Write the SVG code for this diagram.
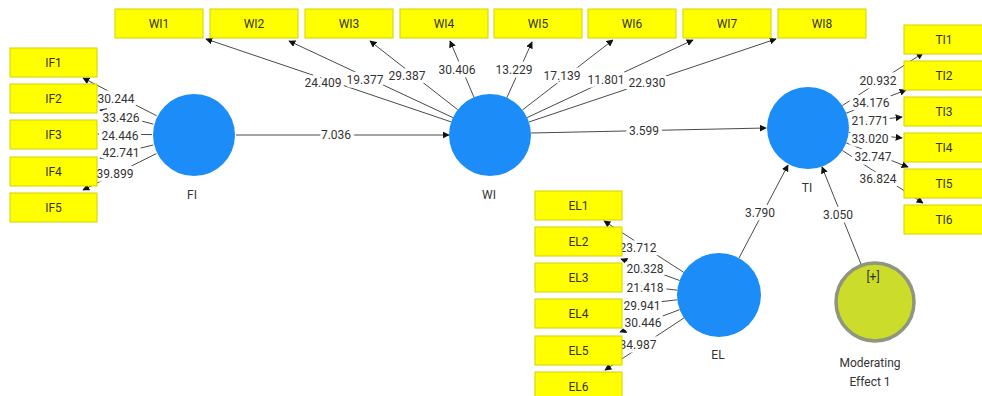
<svg xmlns="http://www.w3.org/2000/svg" width="982" height="396" viewBox="0 0 982 396">
  <defs>
    <marker id="arrow" viewBox="0 0 10 10" refX="9" refY="5" markerWidth="7" markerHeight="7" markerUnits="userSpaceOnUse" orient="auto">
      <path d="M0,0 L10,5 L0,10 z" fill="#111"/>
    </marker>
    <style>
      .ind rect { fill: #ffff00; stroke: #d2d200; stroke-width: 1; }
      .ind text, .lbl { font-family: Roboto, "Noto Sans", "Liberation Sans", sans-serif; font-size: 12px; fill: #333; }
      .ind text { text-anchor: middle; dominant-baseline: central; }
      .lv circle { fill: #1c8cf8; }
      .lv text { font-family: Roboto, "Noto Sans", "Liberation Sans", sans-serif; font-size: 12px; fill: #333; text-anchor: middle; }
      .mod circle { fill: #cbdc2a; stroke: #8e9680; stroke-width: 3.5; }
      #connectors line { stroke: #4a4a4a; stroke-width: 1; marker-end: url(#arrow); }
      .lbl { text-anchor: middle; dominant-baseline: central; paint-order: stroke; stroke: #fff; stroke-width: 7px; stroke-linejoin: round; }
    </style>
  </defs>
  <rect width="982" height="396" fill="#fff"/>

  <!-- connectors: structural paths and outer loadings -->
  <g id="connectors">
    <!-- structural paths -->
    <line x1="236" y1="135" x2="449" y2="135"/>
    <line x1="531" y1="133" x2="766" y2="128"/>
    <line x1="739" y1="258" x2="788" y2="165"/>
    <line x1="861" y1="264" x2="822" y2="167"/>
    <!-- FI loadings -->
    <line x1="156.7" y1="115.8" x2="83" y2="78"/>
    <line x1="153.4" y1="124.2" x2="100" y2="110"/>
    <line x1="152" y1="134.6" x2="98" y2="134"/>
    <line x1="153.2" y1="145" x2="100" y2="158"/>
    <line x1="156.4" y1="153.6" x2="83" y2="190"/>
    <!-- WI loadings -->
    <line x1="451.2" y1="121.9" x2="206" y2="39"/>
    <line x1="452.9" y1="117.6" x2="289" y2="41"/>
    <line x1="457.7" y1="109.7" x2="370" y2="41"/>
    <line x1="474" y1="97.3" x2="450" y2="41"/>
    <line x1="506.9" y1="97.6" x2="532" y2="42"/>
    <line x1="522.4" y1="110" x2="613" y2="40"/>
    <line x1="527.1" y1="117.6" x2="693" y2="40"/>
    <line x1="528.9" y1="122" x2="776" y2="39"/>
    <!-- TI loadings -->
    <line x1="842.3" y1="105.6" x2="923" y2="53"/>
    <line x1="846.2" y1="113.2" x2="906" y2="90"/>
    <line x1="848.7" y1="123.2" x2="902" y2="117"/>
    <line x1="848.8" y1="132.3" x2="902" y2="138"/>
    <line x1="846.2" y1="142.9" x2="908" y2="167"/>
    <line x1="842.3" y1="150.4" x2="923" y2="203"/>
    <!-- EL loadings -->
    <line x1="683.7" y1="272.3" x2="604" y2="221"/>
    <line x1="679.6" y1="280.5" x2="621" y2="259"/>
    <line x1="677.3" y1="290.2" x2="624" y2="284"/>
    <line x1="677.3" y1="299.8" x2="624" y2="306"/>
    <line x1="679.6" y1="309.7" x2="620" y2="332"/>
    <line x1="683.9" y1="318" x2="605" y2="370"/>
  </g>

  <!-- coefficient labels (drawn under the boxes) -->
  <g id="labels">
    <text class="lbl" x="336" y="135">7.036</text>
    <text class="lbl" x="644" y="131">3.599</text>
    <text class="lbl" x="760" y="213">3.790</text>
    <text class="lbl" x="838" y="215">3.050</text>

    <text class="lbl" x="116" y="99">30.244</text>
    <text class="lbl" x="121" y="118">33.426</text>
    <text class="lbl" x="120" y="136">24.446</text>
    <text class="lbl" x="121" y="153">42.741</text>
    <text class="lbl" x="115" y="174">39.899</text>

    <text class="lbl" x="323" y="83">24.409</text>
    <text class="lbl" x="365" y="80">19.377</text>
    <text class="lbl" x="407" y="76">29.387</text>
    <text class="lbl" x="457" y="70">30.406</text>
    <text class="lbl" x="514" y="70">13.229</text>
    <text class="lbl" x="562" y="76">17.139</text>
    <text class="lbl" x="606" y="80">11.801</text>
    <text class="lbl" x="647" y="83">22.930</text>

    <text class="lbl" x="878" y="81">20.932</text>
    <text class="lbl" x="871" y="103">34.176</text>
    <text class="lbl" x="870" y="121">21.771</text>
    <text class="lbl" x="870" y="139">33.020</text>
    <text class="lbl" x="873" y="157">32.747</text>
    <text class="lbl" x="878" y="179">36.824</text>

    <text class="lbl" x="638" y="248">23.712</text>
    <text class="lbl" x="645" y="269">20.328</text>
    <text class="lbl" x="645" y="288">21.418</text>
    <text class="lbl" x="642" y="306">29.941</text>
    <text class="lbl" x="643" y="323">30.446</text>
    <text class="lbl" x="638" y="345">34.987</text>
  </g>

  <!-- indicator boxes -->
  <g id="IF1" class="ind"><rect x="10" y="48" width="87" height="29"/><text x="53.5" y="62.5">IF1</text></g>
  <g id="IF2" class="ind"><rect x="10" y="84" width="87" height="29"/><text x="53.5" y="98.5">IF2</text></g>
  <g id="IF3" class="ind"><rect x="10" y="120" width="87" height="29"/><text x="53.5" y="134.5">IF3</text></g>
  <g id="IF4" class="ind"><rect x="10" y="157" width="87" height="29"/><text x="53.5" y="171.5">IF4</text></g>
  <g id="IF5" class="ind"><rect x="10" y="193" width="87" height="29"/><text x="53.5" y="207.5">IF5</text></g>

  <g id="WI1" class="ind"><rect x="115" y="9" width="88" height="29"/><text x="159" y="23.5">WI1</text></g>
  <g id="WI2" class="ind"><rect x="210" y="9" width="88" height="29"/><text x="254" y="23.5">WI2</text></g>
  <g id="WI3" class="ind"><rect x="305" y="9" width="88" height="29"/><text x="349" y="23.5">WI3</text></g>
  <g id="WI4" class="ind"><rect x="400" y="9" width="88" height="29"/><text x="444" y="23.5">WI4</text></g>
  <g id="WI5" class="ind"><rect x="494" y="9" width="88" height="29"/><text x="538" y="23.5">WI5</text></g>
  <g id="WI6" class="ind"><rect x="588" y="9" width="88" height="29"/><text x="632" y="23.5">WI6</text></g>
  <g id="WI7" class="ind"><rect x="683" y="9" width="88" height="29"/><text x="727" y="23.5">WI7</text></g>
  <g id="WI8" class="ind"><rect x="778" y="9" width="88" height="29"/><text x="822" y="23.5">WI8</text></g>

  <g id="TI1" class="ind"><rect x="904" y="25" width="88" height="29"/><text x="944" y="39.5">TI1</text></g>
  <g id="TI2" class="ind"><rect x="904" y="61" width="88" height="29"/><text x="944" y="75.5">TI2</text></g>
  <g id="TI3" class="ind"><rect x="904" y="97" width="88" height="29"/><text x="944" y="111.5">TI3</text></g>
  <g id="TI4" class="ind"><rect x="904" y="133" width="88" height="29"/><text x="944" y="147.5">TI4</text></g>
  <g id="TI5" class="ind"><rect x="904" y="169" width="88" height="29"/><text x="944" y="183.5">TI5</text></g>
  <g id="TI6" class="ind"><rect x="904" y="205" width="88" height="29"/><text x="944" y="219.5">TI6</text></g>

  <g id="EL1" class="ind"><rect x="535" y="191" width="87" height="29"/><text x="578.5" y="205.5">EL1</text></g>
  <g id="EL2" class="ind"><rect x="535" y="227" width="87" height="29"/><text x="578.5" y="241.5">EL2</text></g>
  <g id="EL3" class="ind"><rect x="535" y="263" width="87" height="29"/><text x="578.5" y="277.5">EL3</text></g>
  <g id="EL4" class="ind"><rect x="535" y="299" width="87" height="29"/><text x="578.5" y="313.5">EL4</text></g>
  <g id="EL5" class="ind"><rect x="535" y="336" width="87" height="29"/><text x="578.5" y="350.5">EL5</text></g>
  <g id="EL6" class="ind"><rect x="535" y="372" width="87" height="29"/><text x="578.5" y="386.5">EL6</text></g>

  <!-- latent variables -->
  <g id="FI" class="lv"><circle cx="194" cy="135" r="41"/><text x="192" y="199">FI</text></g>
  <g id="WI" class="lv"><circle cx="490" cy="135" r="41"/><text x="489" y="199">WI</text></g>
  <g id="TI" class="lv"><circle cx="808" cy="128" r="41"/><text x="807" y="192">TI</text></g>
  <g id="EL" class="lv"><circle cx="719" cy="295" r="42"/><text x="718" y="359">EL</text></g>
  <g id="ModeratingEffect1" class="lv mod">
    <circle cx="875" cy="302" r="39"/>
    <text x="873" y="281">[+]</text>
    <text x="870" y="367">Moderating</text>
    <text x="870" y="386">Effect 1</text>
  </g>
</svg>
